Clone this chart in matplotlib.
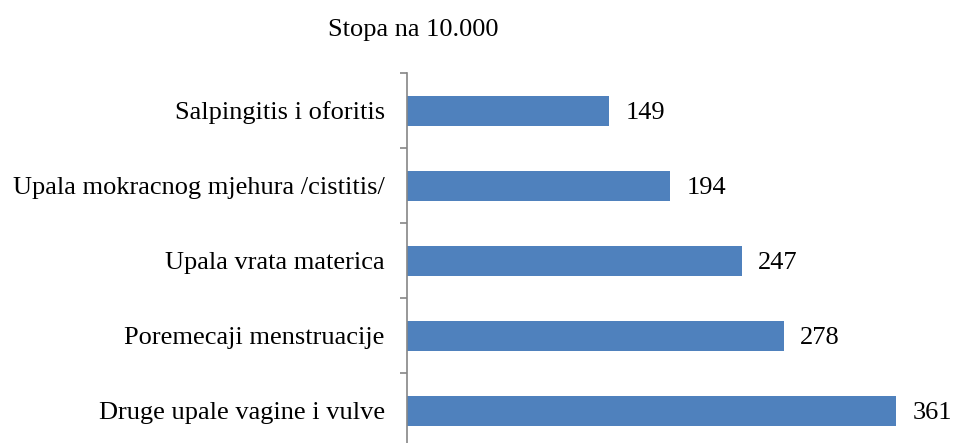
import numpy as np
import matplotlib.pyplot as plt

# data, bottom to top
categories = ['Druge upale vagine i vulve', 'Poremecaji menstruacije',
              'Upala vrata materica', 'Upala mokracnog mjehura /cistitis/',
              'Salpingitis i oforitis']
values = [361, 278, 247, 194, 149]
title = 'Stopa na 10.000'

plt.rcParams['font.family'] = ['Liberation Serif', 'DejaVu Serif']

fig = plt.figure(figsize=(9.54, 4.43), dpi=100)
ax = fig.add_axes([0.4266, -0.0113, 0.568, 0.8465])

y = np.arange(len(categories))
ax.barh(y, values, height=0.4, color='#4F81BD')

for yi, v in zip(y, values):
    ax.annotate(str(v), (v, yi), xytext=(12, 0), textcoords='offset points',
                va='center_baseline', ha='left', fontsize=19)

ax.set_xlim(0, 400)
ax.set_ylim(-0.5, len(categories) - 0.5)
ax.set_yticks(y, categories, fontsize=19)
for lab in ax.get_yticklabels():
    lab.set_va('center_baseline')
ax.tick_params(axis='y', which='major', length=0, pad=16)
ax.set_yticks(np.arange(-0.5, len(categories)), minor=True)
ax.tick_params(axis='y', which='minor', length=5, width=1.2, color='#868686')
ax.set_xticks([])

for s in ['top', 'right', 'bottom']:
    ax.spines[s].set_visible(False)
ax.spines['left'].set_color('#868686')
ax.spines['left'].set_linewidth(1.2)

fig.text(413 / 954, 1 - 30 / 443, title, ha='center', va='center', fontsize=19)

fig.savefig('out.png', dpi=100)
